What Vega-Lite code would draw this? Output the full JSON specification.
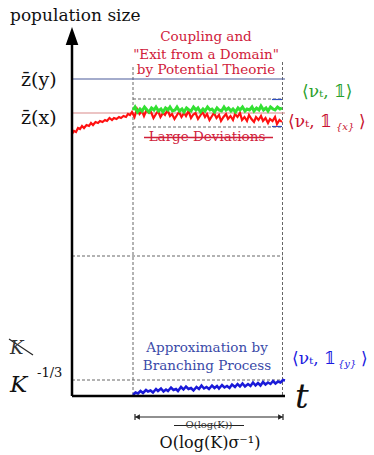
{
"$schema":"https://vega.github.io/schema/vega-lite/v6.json",
"width":374,"height":455,"autosize":{"type":"fit","contains":"padding"},"padding":0,
"config":{"view":{"stroke":null}},
"datasets":{
"segs":[
{"kind":"dash","u":6.1,"v":0.1,"u2":6.1,"v2":32.9},
{"kind":"dash","u":21.05,"v":0.1,"u2":21.05,"v2":33.6},
{"kind":"dash","u":6.1,"v":29.7,"u2":21.05,"v2":29.7},
{"kind":"dash","u":6.1,"v":26.9,"u2":21.05,"v2":26.9},
{"kind":"dash","u":0,"v":14.0,"u2":21.05,"v2":14.0},
{"kind":"dash","u":0,"v":1.6,"u2":21.05,"v2":1.6},
{"kind":"zy","u":0,"v":31.7,"u2":21.3,"v2":31.7},
{"kind":"zx","u":0,"v":28.3,"u2":21.3,"v2":28.3},
{"kind":"redstrike","u":7.2,"v":25.85,"u2":20.1,"v2":25.85},
{"kind":"blackstrike","u":10.2,"v":-2.95,"u2":17.2,"v2":-2.95},
{"kind":"blackstrike","u":-6.3,"v":5.7,"u2":-3.9,"v2":4.1},
{"kind":"arrow","u":6.3,"v":-2.1,"u2":21.1,"v2":-2.1},
{"kind":"arrow","u":6.3,"v":-1.8,"u2":6.3,"v2":-2.4},
{"kind":"arrow","u":21.1,"v":-1.8,"u2":21.1,"v2":-2.4},
{"kind":"bluetick","u":20.0,"v":29.65,"u2":21.0,"v2":29.65},
{"kind":"bluetick","u":20.0,"v":26.95,"u2":21.0,"v2":26.95},
{"kind":"axis","u":0,"v":0,"u2":0,"v2":35.5},
{"kind":"axis","u":0,"v":0,"u2":21.3,"v2":0}
],
"pts":[
{"kind":"yarrow","u":0,"v":36.0},
{"kind":"al","u":6.55,"v":-2.1},
{"kind":"ar","u":20.85,"v":-2.1}
],
"paths":[
{"s":"red","u":0,"v":26.2},{"s":"red","u":0.2,"v":26.5},{"s":"red","u":0.4,"v":26.4},{"s":"red","u":0.6,"v":26.8},{"s":"red","u":0.8,"v":26.7},{"s":"red","u":1.0,"v":27.0},{"s":"red","u":1.2,"v":26.8},{"s":"red","u":1.45,"v":27.1},{"s":"red","u":1.7,"v":27.0},{"s":"red","u":1.9,"v":27.3},{"s":"red","u":2.1,"v":27.1},{"s":"red","u":2.35,"v":27.4},{"s":"red","u":2.6,"v":27.3},{"s":"red","u":2.8,"v":27.5},{"s":"red","u":3.05,"v":27.4},{"s":"red","u":3.3,"v":27.6},{"s":"red","u":3.5,"v":27.5},{"s":"red","u":3.75,"v":27.8},{"s":"red","u":4.0,"v":27.6},{"s":"red","u":4.2,"v":27.8},{"s":"red","u":4.45,"v":27.7},{"s":"red","u":4.7,"v":27.9},{"s":"red","u":4.9,"v":27.8},{"s":"red","u":5.15,"v":28.0},{"s":"red","u":5.4,"v":27.9},{"s":"red","u":5.6,"v":28.2},{"s":"red","u":5.8,"v":28.1},
{"s":"red","u":6.0,"v":28.4},{"s":"red","u":6.25,"v":27.9},{"s":"red","u":6.5,"v":28.7},{"s":"red","u":6.75,"v":28.2},{"s":"red","u":7.0,"v":28.5},{"s":"red","u":7.2,"v":28.0},{"s":"red","u":7.45,"v":28.6},{"s":"red","u":7.7,"v":28.3},{"s":"red","u":7.9,"v":28.4},{"s":"red","u":8.15,"v":27.8},{"s":"red","u":8.4,"v":28.2},{"s":"red","u":8.6,"v":28.5},{"s":"red","u":8.85,"v":27.9},{"s":"red","u":9.1,"v":28.3},{"s":"red","u":9.3,"v":28.1},{"s":"red","u":9.55,"v":28.6},{"s":"red","u":9.8,"v":28.0},{"s":"red","u":10.0,"v":28.2},{"s":"red","u":10.25,"v":27.7},{"s":"red","u":10.5,"v":28.1},{"s":"red","u":10.7,"v":28.4},{"s":"red","u":10.95,"v":27.9},{"s":"red","u":11.2,"v":28.3},{"s":"red","u":11.4,"v":28.0},{"s":"red","u":11.65,"v":28.5},{"s":"red","u":11.9,"v":27.8},{"s":"red","u":12.1,"v":28.1},{"s":"red","u":12.35,"v":28.3},{"s":"red","u":12.6,"v":27.7},{"s":"red","u":12.8,"v":28.0},{"s":"red","u":13.05,"v":28.4},{"s":"red","u":13.3,"v":27.9},{"s":"red","u":13.5,"v":28.2},{"s":"red","u":13.75,"v":27.6},{"s":"red","u":14.0,"v":28.0},{"s":"red","u":14.2,"v":28.3},{"s":"red","u":14.45,"v":27.8},{"s":"red","u":14.7,"v":28.1},{"s":"red","u":14.9,"v":27.5},{"s":"red","u":15.15,"v":27.9},{"s":"red","u":15.4,"v":28.2},{"s":"red","u":15.6,"v":27.7},{"s":"red","u":15.85,"v":28.0},{"s":"red","u":16.1,"v":27.6},{"s":"red","u":16.3,"v":28.2},{"s":"red","u":16.55,"v":27.9},{"s":"red","u":16.8,"v":28.3},{"s":"red","u":17.0,"v":27.6},{"s":"red","u":17.25,"v":27.9},{"s":"red","u":17.5,"v":27.5},{"s":"red","u":17.7,"v":28.1},{"s":"red","u":17.95,"v":27.7},{"s":"red","u":18.2,"v":27.4},{"s":"red","u":18.4,"v":27.9},{"s":"red","u":18.65,"v":27.6},{"s":"red","u":18.9,"v":28.0},{"s":"red","u":19.1,"v":27.5},{"s":"red","u":19.35,"v":27.8},{"s":"red","u":19.6,"v":27.3},{"s":"red","u":19.8,"v":27.7},{"s":"red","u":20.05,"v":27.5},{"s":"red","u":20.3,"v":27.9},{"s":"red","u":20.5,"v":27.2},{"s":"red","u":20.75,"v":27.6},{"s":"red","u":21.0,"v":27.4},
{"s":"green","u":6.1,"v":28.6},{"s":"green","u":6.3,"v":28.9},{"s":"green","u":6.55,"v":28.4},{"s":"green","u":6.8,"v":28.7},{"s":"green","u":7.0,"v":28.5},{"s":"green","u":7.25,"v":28.9},{"s":"green","u":7.5,"v":28.6},{"s":"green","u":7.7,"v":28.4},{"s":"green","u":7.95,"v":28.8},{"s":"green","u":8.2,"v":28.6},{"s":"green","u":8.4,"v":28.9},{"s":"green","u":8.65,"v":28.5},{"s":"green","u":8.9,"v":28.7},{"s":"green","u":9.1,"v":28.4},{"s":"green","u":9.35,"v":28.8},{"s":"green","u":9.6,"v":28.6},{"s":"green","u":9.8,"v":28.9},{"s":"green","u":10.05,"v":28.5},{"s":"green","u":10.3,"v":28.6},{"s":"green","u":10.5,"v":28.9},{"s":"green","u":10.75,"v":28.5},{"s":"green","u":11.0,"v":28.7},{"s":"green","u":11.2,"v":28.4},{"s":"green","u":11.45,"v":28.8},{"s":"green","u":11.7,"v":28.6},{"s":"green","u":11.9,"v":28.5},{"s":"green","u":12.15,"v":28.9},{"s":"green","u":12.4,"v":28.6},{"s":"green","u":12.6,"v":28.8},{"s":"green","u":12.85,"v":28.4},{"s":"green","u":13.1,"v":28.7},{"s":"green","u":13.3,"v":28.5},{"s":"green","u":13.55,"v":28.9},{"s":"green","u":13.8,"v":28.6},{"s":"green","u":14.0,"v":28.7},{"s":"green","u":14.25,"v":28.4},{"s":"green","u":14.5,"v":28.8},{"s":"green","u":14.7,"v":28.6},{"s":"green","u":14.95,"v":28.5},{"s":"green","u":15.2,"v":28.9},{"s":"green","u":15.4,"v":28.6},{"s":"green","u":15.65,"v":28.8},{"s":"green","u":15.9,"v":28.5},{"s":"green","u":16.1,"v":28.7},{"s":"green","u":16.35,"v":28.4},{"s":"green","u":16.6,"v":28.8},{"s":"green","u":16.8,"v":28.6},{"s":"green","u":17.05,"v":28.9},{"s":"green","u":17.3,"v":28.5},{"s":"green","u":17.5,"v":28.7},{"s":"green","u":17.75,"v":28.6},{"s":"green","u":18.0,"v":28.9},{"s":"green","u":18.2,"v":28.5},{"s":"green","u":18.45,"v":28.8},{"s":"green","u":18.7,"v":28.6},{"s":"green","u":18.9,"v":29.0},{"s":"green","u":19.15,"v":28.6},{"s":"green","u":19.4,"v":28.8},{"s":"green","u":19.6,"v":28.5},{"s":"green","u":19.85,"v":28.9},{"s":"green","u":20.1,"v":28.7},{"s":"green","u":20.3,"v":28.6},{"s":"green","u":20.55,"v":28.9},{"s":"green","u":20.8,"v":28.7},{"s":"green","u":21.0,"v":28.8},
{"s":"blue","u":6.1,"v":0.1},{"s":"blue","u":6.35,"v":0.35},{"s":"blue","u":6.6,"v":0.25},{"s":"blue","u":6.85,"v":0.5},{"s":"blue","u":7.1,"v":0.3},{"s":"blue","u":7.4,"v":0.6},{"s":"blue","u":7.6,"v":0.45},{"s":"blue","u":7.85,"v":0.55},{"s":"blue","u":8.1,"v":0.35},{"s":"blue","u":8.4,"v":0.7},{"s":"blue","u":8.6,"v":0.5},{"s":"blue","u":8.9,"v":0.75},{"s":"blue","u":9.15,"v":0.45},{"s":"blue","u":9.4,"v":0.65},{"s":"blue","u":9.6,"v":0.5},{"s":"blue","u":9.9,"v":0.85},{"s":"blue","u":10.15,"v":0.6},{"s":"blue","u":10.4,"v":0.7},{"s":"blue","u":10.6,"v":0.5},{"s":"blue","u":10.9,"v":0.9},{"s":"blue","u":11.15,"v":0.65},{"s":"blue","u":11.4,"v":0.95},{"s":"blue","u":11.65,"v":0.7},{"s":"blue","u":11.9,"v":0.8},{"s":"blue","u":12.15,"v":0.55},{"s":"blue","u":12.45,"v":0.9},{"s":"blue","u":12.7,"v":0.7},{"s":"blue","u":12.95,"v":1.05},{"s":"blue","u":13.2,"v":0.75},{"s":"blue","u":13.45,"v":0.9},{"s":"blue","u":13.7,"v":0.7},{"s":"blue","u":14.0,"v":1.05},{"s":"blue","u":14.25,"v":0.8},{"s":"blue","u":14.5,"v":1.0},{"s":"blue","u":14.7,"v":0.75},{"s":"blue","u":15.0,"v":1.1},{"s":"blue","u":15.25,"v":0.85},{"s":"blue","u":15.5,"v":1.0},{"s":"blue","u":15.75,"v":0.8},{"s":"blue","u":16.0,"v":1.15},{"s":"blue","u":16.3,"v":0.9},{"s":"blue","u":16.55,"v":1.2},{"s":"blue","u":16.8,"v":0.95},{"s":"blue","u":17.05,"v":1.25},{"s":"blue","u":17.3,"v":0.95},{"s":"blue","u":17.6,"v":1.2},{"s":"blue","u":17.85,"v":1.0},{"s":"blue","u":18.1,"v":1.35},{"s":"blue","u":18.35,"v":1.05},{"s":"blue","u":18.6,"v":1.3},{"s":"blue","u":18.85,"v":1.05},{"s":"blue","u":19.1,"v":1.4},{"s":"blue","u":19.35,"v":1.15},{"s":"blue","u":19.6,"v":1.35},{"s":"blue","u":19.85,"v":1.2},{"s":"blue","u":20.1,"v":1.5},{"s":"blue","u":20.35,"v":1.25},{"s":"blue","u":20.6,"v":1.45},{"s":"blue","u":20.85,"v":1.35},{"s":"blue","u":21.1,"v":1.6},{"s":"blue","u":21.3,"v":1.55}
],
"texts":[
{"kind":"title","u":-6.2,"v":37.5,"label":"population size"},
{"kind":"zlab","u":-5.1,"v":31.0,"label":"z̄(y)"},
{"kind":"zlab","u":-5.1,"v":27.2,"label":"z̄(x)"},
{"kind":"redtext","u":13.4,"v":35.5,"label":"Coupling and"},
{"kind":"redtext","u":13.4,"v":33.7,"label":"\"Exit from a Domain\""},
{"kind":"redtext","u":13.4,"v":32.2,"label":"by Potential Theorie"},
{"kind":"redtext","u":13.5,"v":25.5,"label":"Large Deviations"},
{"kind":"greenlab","u":23.0,"v":29.9,"label":"⟨νₜ, 𝟙⟩"},
{"kind":"redlab","u":21.6,"v":26.9,"label":"⟨νₜ, 𝟙"},
{"kind":"redsub","u":26.4,"v":26.6,"label":"{x}"},
{"kind":"redlab","u":28.7,"v":26.9,"label":"⟩"},
{"kind":"bluetext","u":13.5,"v":4.4,"label":"Approximation by"},
{"kind":"bluetext","u":13.5,"v":2.6,"label":"Branching Process"},
{"kind":"bluelab","u":22.0,"v":3.2,"label":"⟨νₜ, 𝟙"},
{"kind":"bluesub","u":26.6,"v":2.9,"label":"{y}"},
{"kind":"bluelab","u":28.9,"v":3.2,"label":"⟩"},
{"kind":"kcross","u":-6.2,"v":4.2,"label":"K"},
{"kind":"kbig","u":-6.2,"v":0.4,"label":"K"},
{"kind":"ksup","u":-3.5,"v":1.9,"label":"-1/3"},
{"kind":"t","u":22.3,"v":-1.2,"label":"t"},
{"kind":"osmall","u":13.7,"v":-3.2,"label":"O(log(K))"},
{"kind":"obig","u":13.8,"v":-5.2,"label":"O(log(K)σ⁻¹)"}
]
},
"encoding":{
"x":{"field":"u","type":"quantitative","scale":{"domain":[-7.2,30.2],"nice":false,"zero":false},"axis":null},
"y":{"field":"v","type":"quantitative","scale":{"domain":[-5.9,39.6],"nice":false,"zero":false},"axis":null}
},
"layer":[
{"data":{"name":"segs"},"transform":[{"filter":"datum.kind=='dash'"}],"mark":{"type":"rule","color":"#666666","strokeWidth":1,"strokeDash":[3,2]},"encoding":{"x2":{"field":"u2"},"y2":{"field":"v2"}}},
{"data":{"name":"segs"},"transform":[{"filter":"datum.kind=='zy'"}],"mark":{"type":"rule","color":"#4a5a9a","strokeWidth":1.2},"encoding":{"x2":{"field":"u2"},"y2":{"field":"v2"}}},
{"data":{"name":"segs"},"transform":[{"filter":"datum.kind=='zx'"}],"mark":{"type":"rule","color":"#d98a8a","strokeWidth":1.2},"encoding":{"x2":{"field":"u2"},"y2":{"field":"v2"}}},
{"data":{"name":"segs"},"transform":[{"filter":"datum.kind=='bluetick'"}],"mark":{"type":"rule","color":"#3050c0","strokeWidth":1.2},"encoding":{"x2":{"field":"u2"},"y2":{"field":"v2"}}},
{"data":{"name":"paths"},"transform":[{"filter":"datum.s=='red'"}],"mark":{"type":"line","color":"#ff1010","strokeWidth":2.2},"encoding":{"order":{"field":"u"}}},
{"data":{"name":"paths"},"transform":[{"filter":"datum.s=='green'"}],"mark":{"type":"line","color":"#33e033","strokeWidth":3},"encoding":{"order":{"field":"u"}}},
{"data":{"name":"paths"},"transform":[{"filter":"datum.s=='blue'"}],"mark":{"type":"line","color":"#1a1ad8","strokeWidth":2.5},"encoding":{"order":{"field":"u"}}},
{"data":{"name":"segs"},"transform":[{"filter":"datum.kind=='redstrike'"}],"mark":{"type":"rule","color":"#d0203a","strokeWidth":1.3},"encoding":{"x2":{"field":"u2"},"y2":{"field":"v2"}}},
{"data":{"name":"segs"},"transform":[{"filter":"datum.kind=='blackstrike' || datum.kind=='arrow'"}],"mark":{"type":"rule","color":"#222222","strokeWidth":1.2},"encoding":{"x2":{"field":"u2"},"y2":{"field":"v2"}}},
{"data":{"name":"segs"},"transform":[{"filter":"datum.kind=='axis'"}],"mark":{"type":"rule","color":"#000000","strokeWidth":2.5},"encoding":{"x2":{"field":"u2"},"y2":{"field":"v2"}}},
{"data":{"name":"pts"},"transform":[{"filter":"datum.kind=='yarrow'"}],"mark":{"type":"point","shape":"M0,-1L0.7,1L-0.7,1Z","size":324,"filled":true,"color":"#000000","opacity":1}},
{"data":{"name":"pts"},"transform":[{"filter":"datum.kind=='al'"}],"mark":{"type":"point","shape":"triangle-left","size":30,"filled":true,"color":"#222222","opacity":1}},
{"data":{"name":"pts"},"transform":[{"filter":"datum.kind=='ar'"}],"mark":{"type":"point","shape":"triangle-right","size":30,"filled":true,"color":"#222222","opacity":1}},
{"data":{"name":"texts"},"transform":[{"filter":"datum.kind=='title'"}],"mark":{"type":"text","font":"DejaVu Serif","baseline":"alphabetic","fontSize":17,"align":"left","color":"#111111"},"encoding":{"text":{"field":"label"}}},
{"data":{"name":"texts"},"transform":[{"filter":"datum.kind=='zlab'"}],"mark":{"type":"text","font":"DejaVu Serif","baseline":"alphabetic","fontSize":19,"align":"left","color":"#111111"},"encoding":{"text":{"field":"label"}}},
{"data":{"name":"texts"},"transform":[{"filter":"datum.kind=='redtext'"}],"mark":{"type":"text","font":"DejaVu Serif","baseline":"alphabetic","fontSize":13.5,"align":"center","color":"#d0203a"},"encoding":{"text":{"field":"label"}}},
{"data":{"name":"texts"},"transform":[{"filter":"datum.kind=='bluetext'"}],"mark":{"type":"text","font":"DejaVu Serif","baseline":"alphabetic","fontSize":13.5,"align":"center","color":"#3a4aa8"},"encoding":{"text":{"field":"label"}}},
{"data":{"name":"texts"},"transform":[{"filter":"datum.kind=='greenlab'"}],"mark":{"type":"text","font":"DejaVu Serif","baseline":"alphabetic","fontSize":17,"align":"left","color":"#2aa02a"},"encoding":{"text":{"field":"label"}}},
{"data":{"name":"texts"},"transform":[{"filter":"datum.kind=='redlab'"}],"mark":{"type":"text","font":"DejaVu Serif","baseline":"alphabetic","fontSize":17,"align":"left","color":"#c8102e"},"encoding":{"text":{"field":"label"}}},
{"data":{"name":"texts"},"transform":[{"filter":"datum.kind=='redsub'"}],"mark":{"type":"text","font":"DejaVu Serif","baseline":"alphabetic","fontSize":10,"fontStyle":"italic","align":"left","color":"#c8102e"},"encoding":{"text":{"field":"label"}}},
{"data":{"name":"texts"},"transform":[{"filter":"datum.kind=='bluelab'"}],"mark":{"type":"text","font":"DejaVu Serif","baseline":"alphabetic","fontSize":17,"align":"left","color":"#1a1ae0"},"encoding":{"text":{"field":"label"}}},
{"data":{"name":"texts"},"transform":[{"filter":"datum.kind=='bluesub'"}],"mark":{"type":"text","font":"DejaVu Serif","baseline":"alphabetic","fontSize":10,"fontStyle":"italic","align":"left","color":"#1a1ae0"},"encoding":{"text":{"field":"label"}}},
{"data":{"name":"texts"},"transform":[{"filter":"datum.kind=='kcross'"}],"mark":{"type":"text","font":"DejaVu Serif","baseline":"alphabetic","fontSize":18,"align":"left","fontStyle":"italic","color":"#333333"},"encoding":{"text":{"field":"label"}}},
{"data":{"name":"texts"},"transform":[{"filter":"datum.kind=='kbig'"}],"mark":{"type":"text","font":"DejaVu Serif","baseline":"alphabetic","fontSize":23,"align":"left","fontStyle":"italic","color":"#111111"},"encoding":{"text":{"field":"label"}}},
{"data":{"name":"texts"},"transform":[{"filter":"datum.kind=='ksup'"}],"mark":{"type":"text","font":"DejaVu Serif","baseline":"alphabetic","fontSize":13,"align":"left","color":"#111111"},"encoding":{"text":{"field":"label"}}},
{"data":{"name":"texts"},"transform":[{"filter":"datum.kind=='t'"}],"mark":{"type":"text","font":"DejaVu Serif","baseline":"alphabetic","fontSize":34,"align":"left","fontStyle":"italic","color":"#111111"},"encoding":{"text":{"field":"label"}}},
{"data":{"name":"texts"},"transform":[{"filter":"datum.kind=='osmall'"}],"mark":{"type":"text","font":"DejaVu Serif","baseline":"alphabetic","fontSize":10,"align":"center","color":"#333333"},"encoding":{"text":{"field":"label"}}},
{"data":{"name":"texts"},"transform":[{"filter":"datum.kind=='obig'"}],"mark":{"type":"text","font":"DejaVu Serif","baseline":"alphabetic","fontSize":16,"align":"center","color":"#111111"},"encoding":{"text":{"field":"label"}}}
]
}
